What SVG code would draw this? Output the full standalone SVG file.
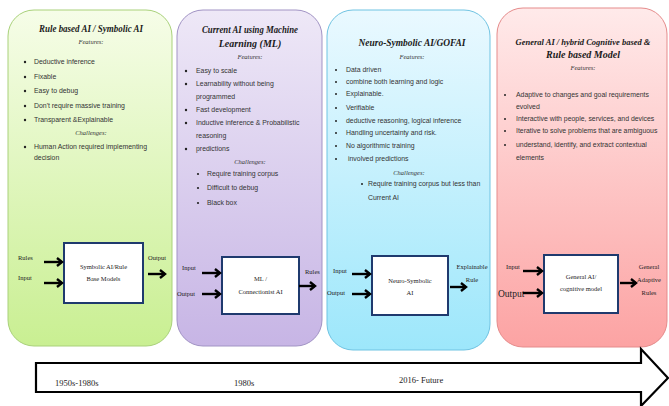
<svg xmlns="http://www.w3.org/2000/svg" width="669" height="406" viewBox="0 0 669 406">
<defs>
<linearGradient id="gG" x1="0" y1="0" x2="0" y2="1"><stop offset="0" stop-color="#f6fde8"/><stop offset="1" stop-color="#c9ef92"/></linearGradient>
<linearGradient id="gP" x1="0" y1="0" x2="0" y2="1"><stop offset="0" stop-color="#eee8f7"/><stop offset="1" stop-color="#c7b5e5"/></linearGradient>
<linearGradient id="gB" x1="0" y1="0" x2="0" y2="1"><stop offset="0" stop-color="#eaf9ff"/><stop offset="1" stop-color="#9de7fb"/></linearGradient>
<linearGradient id="gR" x1="0" y1="0" x2="0" y2="1"><stop offset="0" stop-color="#ffeaea"/><stop offset="1" stop-color="#fca3a3"/></linearGradient>
<marker id="ah" markerUnits="userSpaceOnUse" markerWidth="10" markerHeight="12" refX="6" refY="5" orient="auto">
<path d="M1,1 L6,5 L1,9" fill="none" stroke="#000" stroke-width="2.4"/>
</marker>
</defs>
<style>
.t{font-family:"Liberation Serif",serif;font-weight:bold;font-style:italic;font-size:10px;fill:#1a1a1a;text-anchor:middle}
.h{font-family:"Liberation Serif",serif;font-style:italic;font-size:6.5px;fill:#333;text-anchor:middle}
.b{font-family:"Liberation Sans",Arial,sans-serif;font-size:6.9px;fill:#333}
.l{font-family:"Liberation Serif",serif;font-size:6.5px;fill:#222}
.c{font-family:"Liberation Serif",serif;font-size:6.5px;fill:#222;text-anchor:middle}
.y{font-family:"Liberation Serif",serif;font-size:9.5px;fill:#222}
.box{fill:#fff;stroke:#1f3a6e;stroke-width:2}
.dot{fill:#222}
.ar{stroke:#000;stroke-width:2.4;fill:none;marker-end:url(#ah)}
</style>
<rect width="669" height="406" fill="#fff"/>

<g id="panel1">
<rect x="8" y="10" width="164" height="336" rx="26" fill="url(#gG)" stroke="#a9d17a" stroke-width="1"/>
<text class="t" x="91" y="32" textLength="104" lengthAdjust="spacingAndGlyphs">Rule based AI / Symbolic AI</text>
<text class="h" x="91" y="44">Features:</text>
<circle class="dot" cx="25" cy="62" r="1.2"/><text class="b" x="34" y="64">Deductive inference</text>
<circle class="dot" cx="25" cy="77" r="1.2"/><text class="b" x="34" y="79">Fixable</text>
<circle class="dot" cx="25" cy="91" r="1.2"/><text class="b" x="34" y="93">Easy to debug</text>
<circle class="dot" cx="25" cy="106" r="1.2"/><text class="b" x="34" y="108">Don't require massive training</text>
<circle class="dot" cx="25" cy="120" r="1.2"/><text class="b" x="34" y="122">Transparent &amp;Explainable</text>
<text class="h" x="91" y="135">Challenges:</text>
<circle class="dot" cx="25" cy="147" r="1.2"/><text class="b" x="34" y="149">Human Action required implementing</text>
<text class="b" x="34" y="160">decision</text>
</g>

<g id="panel2">
<rect x="177" y="10" width="145" height="336" rx="26" fill="url(#gP)" stroke="#a193c4" stroke-width="1"/>
<text class="t" x="250" y="33" textLength="96" lengthAdjust="spacingAndGlyphs">Current AI using Machine</text>
<text class="t" x="250" y="47">Learning (ML)</text>
<text class="h" x="250" y="59">Features:</text>
<circle class="dot" cx="186" cy="71" r="1.2"/><text class="b" x="196" y="73">Easy to scale</text>
<circle class="dot" cx="186" cy="84" r="1.2"/><text class="b" x="196" y="86">Learnability without being</text>
<text class="b" x="196" y="99">programmed</text>
<circle class="dot" cx="186" cy="110" r="1.2"/><text class="b" x="196" y="112">Fast development</text>
<circle class="dot" cx="186" cy="123" r="1.2"/><text class="b" x="196" y="125">Inductive inference &amp; Probabilistic</text>
<text class="b" x="196" y="138">reasoning</text>
<circle class="dot" cx="186" cy="149" r="1.2"/><text class="b" x="196" y="151">predictions</text>
<text class="h" x="250" y="164">Challenges:</text>
<circle class="dot" cx="198" cy="174" r="1.1"/><text class="b" x="207" y="176">Require training corpus</text>
<circle class="dot" cx="198" cy="188" r="1.1"/><text class="b" x="207" y="190">Difficult to debug</text>
<circle class="dot" cx="198" cy="203" r="1.1"/><text class="b" x="207" y="205">Black box</text>
</g>

<g id="panel3">
<rect x="327" y="10" width="163" height="340" rx="26" fill="url(#gB)" stroke="#6fc3e2" stroke-width="1"/>
<text class="t" x="412" y="46" textLength="107" lengthAdjust="spacingAndGlyphs">Neuro-Symbolic AI/GOFAI</text>
<text class="h" x="412" y="59">Features:</text>
<circle class="dot" cx="336" cy="70" r="1"/><text class="b" x="346" y="72">Data driven</text>
<circle class="dot" cx="336" cy="82" r="1"/><text class="b" x="346" y="84">combine both learning and logic</text>
<circle class="dot" cx="336" cy="94" r="1"/><text class="b" x="346" y="96">Explainable.</text>
<circle class="dot" cx="336" cy="108" r="1"/><text class="b" x="346" y="110">Verifiable</text>
<circle class="dot" cx="336" cy="121" r="1"/><text class="b" x="346" y="123">deductive reasoning, logical inference</text>
<circle class="dot" cx="336" cy="133" r="1"/><text class="b" x="346" y="135">Handling uncertainty and risk.</text>
<circle class="dot" cx="336" cy="146" r="1"/><text class="b" x="346" y="148">No algorithmic training</text>
<circle class="dot" cx="336" cy="159" r="1"/><text class="b" x="348" y="161">involved predictions</text>
<text class="h" x="409" y="175">Challenges:</text>
<circle class="dot" cx="362" cy="184" r="1"/><text class="b" x="368" y="186">Require training corpus but less than</text>
<text class="b" x="368" y="200">Current AI</text>
</g>

<g id="panel4">
<rect x="497" y="8" width="170" height="339" rx="26" fill="url(#gR)" stroke="#e58b8b" stroke-width="1"/>
<text class="t" x="583" y="45" style="font-size:9px" textLength="135" lengthAdjust="spacingAndGlyphs">General AI / hybrid Cognitive based &amp;</text>
<text class="t" x="583" y="58">Rule based Model</text>
<text class="h" x="583" y="70">Features:</text>
<circle class="dot" cx="505" cy="95" r="1"/><text class="b" x="516" y="97">Adaptive to changes and goal requirements</text>
<text class="b" x="516" y="109">evolved</text>
<circle class="dot" cx="505" cy="119" r="1"/><text class="b" x="516" y="121">Interactive with people, services, and devices</text>
<circle class="dot" cx="505" cy="131" r="1"/><text class="b" x="516" y="133">Iterative to solve problems that are ambiguous</text>
<circle class="dot" cx="505" cy="145" r="1"/><text class="b" x="516" y="147">understand, identify, and extract contextual</text>
<text class="b" x="516" y="160">elements</text>
</g>

<g id="box1">
<rect class="box" x="64" y="243" width="79" height="60"/>
<text class="c" x="103.5" y="269">Symbolic AI/Rule</text>
<text class="c" x="103.5" y="281">Base Models</text>
</g>
<g id="box2">
<rect class="box" x="222" y="257" width="77" height="57"/>
<text class="c" x="260.5" y="281">ML /</text>
<text class="c" x="260.5" y="294">Connectionist AI</text>
</g>
<g id="box3">
<rect class="box" x="372" y="256" width="76" height="59"/>
<text class="c" x="410" y="283">Neuro-Symbolic</text>
<text class="c" x="410" y="295">AI</text>
</g>
<g id="box4">
<rect class="box" x="544" y="255" width="74" height="58"/>
<text class="c" x="581" y="279">General AI/</text>
<text class="c" x="581" y="291">cognitive model</text>
</g>

<g id="labels">
<text class="l" x="18" y="260">Rules</text>
<text class="l" x="18" y="280">Input</text>
<text class="l" x="148" y="260">Output</text>
<text class="l" x="182" y="270">Input</text>
<text class="l" x="177" y="296">Output</text>
<text class="l" x="305" y="274">Rules</text>
<text class="l" x="333" y="273">Input</text>
<text class="l" x="327" y="295">Output</text>
<text class="c" x="472" y="269">Explainable</text>
<text class="c" x="472" y="282">Rule</text>
<text class="l" x="506" y="269">Input</text>
<text class="y" x="498" y="297">Output</text>
<text class="c" x="649" y="269">General</text>
<text class="c" x="649" y="282">Adaptive</text>
<text class="c" x="649" y="295">Rules</text>
</g>

<g id="connectors">
<path class="ar" d="M44,262 H62"/>
<path class="ar" d="M44,283 H62"/>
<path class="ar" d="M148,274 H165"/>
<path class="ar" d="M202,273 H220"/>
<path class="ar" d="M202,294 H220"/>
<path class="ar" d="M299,286 H315"/>
<path class="ar" d="M352,274 H370"/>
<path class="ar" d="M352,294 H370"/>
<path class="ar" d="M450,287 H466"/>
<path class="ar" d="M523,271 H542"/>
<path class="ar" d="M523,293 H542"/>
<path class="ar" d="M620,283 H636"/>
</g>

<g id="timeline">
<polygon points="36,363 641,363 641,349 668,378 641,406 641,392 36,392" fill="#fff" stroke="#000" stroke-width="2.2"/>
<text class="l" x="55" y="386" style="font-size:8.5px">1950s-1980s</text>
<text class="l" x="234" y="386" style="font-size:8.5px">1980s</text>
<text class="l" x="399" y="383" style="font-size:8.5px">2016- Future</text>
</g>
</svg>
